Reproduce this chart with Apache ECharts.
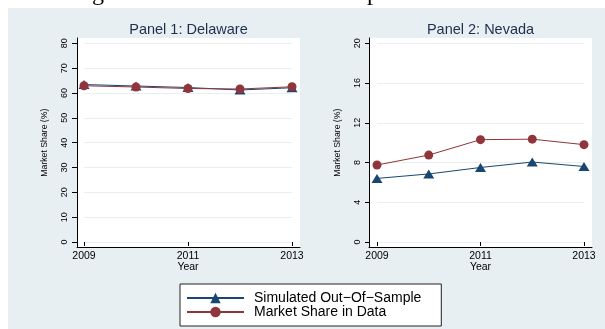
<!DOCTYPE html>
<html>
<head>
<meta charset="utf-8">
<script src="https://cdn.jsdelivr.net/npm/echarts@6/dist/echarts.min.js"></script>
<style>
  html, body { margin: 0; padding: 0; background: #fff; }
  #chart { width: 605px; height: 329px; }
</style>
</head>
<body>
<div id="chart"></div>
<script>
// ---- data ----
const years = ['2009', '2010', '2011', '2012', '2013'];
const delawareSimulated = [63.4, 62.8, 62.2, 61.2, 62.1];
const delawareData = [62.9, 62.4, 61.8, 61.6, 62.5];
const nevadaSimulated = [6.4, 6.85, 7.5, 8.05, 7.6];
const nevadaData = [7.75, 8.75, 10.3, 10.35, 9.8];
const panelTitles = ['Panel 1: Delaware', 'Panel 2: Nevada'];
const seriesNames = ['Simulated Out\u2212Of\u2212Sample', 'Market Share in Data'];
const yAxisName = 'Market Share (%)';
const xAxisName = 'Year';
const delawareScale = { min: 0, max: 80, interval: 10 };
const nevadaScale = { min: 0, max: 20, interval: 4 };

// ---- styles ----
const NAVY = '#1a476f';
const MAROON = '#90353b';
const BG = '#e8eff2';
const GRIDLINE = '#e8eff2';
const FONT = 'Liberation Sans, Arial, Helvetica, sans-serif';

const chart = echarts.init(document.getElementById('chart'), null, { renderer: 'canvas' });

function frameGrid(left) {
  return { left: left, top: 38, width: 223, height: 209, show: true, backgroundColor: '#fff', borderWidth: 0 };
}
function dataGrid(left, width) {
  return { left: left, top: 43.3, width: width, height: 198.7, show: false };
}
function frameX(gi) {
  return { type: 'value', gridIndex: gi, min: 0, max: 1, axisLine: { show: true, onZero: false, lineStyle: { color: '#000', width: 1 } },
    axisTick: { show: false }, axisLabel: { show: false }, splitLine: { show: false } };
}
function frameY(gi) {
  return { type: 'value', gridIndex: gi, min: 0, max: 1, axisLine: { show: true, onZero: false, lineStyle: { color: '#000', width: 1 } },
    axisTick: { show: false }, axisLabel: { show: false }, splitLine: { show: false } };
}
function dataX(gi) {
  return {
    type: 'category', gridIndex: gi, data: years, boundaryGap: false, offset: 5,
    axisLine: { show: false },
    axisTick: { show: true, interval: 1, length: 4, lineStyle: { color: '#000', width: 1 } },
    axisLabel: { interval: 1, fontSize: 10.5, margin: 4, color: '#000', fontFamily: FONT },
    splitLine: { show: false },
    name: xAxisName, nameLocation: 'middle', nameGap: 15, nameMoveOverlap: false,
    nameTextStyle: { fontSize: 10.5, color: '#000', fontFamily: FONT }
  };
}
function dataY(gi, sc) {
  return {
    type: 'value', gridIndex: gi, min: sc.min, max: sc.max, interval: sc.interval, offset: 7,
    axisLine: { show: false },
    axisTick: { show: true, length: 5, lineStyle: { color: '#000', width: 1 } },
    axisLabel: { rotate: 90, fontSize: 9, margin: 8, color: '#000', fontFamily: FONT },
    splitLine: { show: true, lineStyle: { color: GRIDLINE, width: 1 } },
    name: yAxisName, nameLocation: 'middle', nameRotate: 90, nameGap: 28, nameMoveOverlap: false,
    nameTextStyle: { fontSize: 8.7, color: '#000', fontFamily: FONT }
  };
}
function lineSeries(name, data, xi, yi, isSim) {
  return {
    type: 'line', name: name, data: data, xAxisIndex: xi, yAxisIndex: yi,
    symbol: isSim ? 'triangle' : 'circle',
    symbolSize: isSim ? [11, 9] : 9,
    showAllSymbol: true,
    lineStyle: { color: isSim ? NAVY : MAROON, width: 1 },
    itemStyle: { color: isSim ? NAVY : MAROON },
    emphasis: { disabled: true },
    animation: false
  };
}

const option = {
  animation: false,
  backgroundColor: '#fff',
  textStyle: { fontFamily: FONT },
  graphic: [
    { type: 'rect', z: -100, shape: { x: 8, y: 8, width: 597, height: 321 }, style: { fill: BG } },
    { type: 'text', z: 10, x: 92, y: 6, style: { text: 'g', font: '24px "Liberation Serif", serif', fill: '#000', verticalAlign: 'bottom' } },
    { type: 'text', z: 10, x: 367, y: 6, style: { text: 'p', font: '24px "Liberation Serif", serif', fill: '#000', verticalAlign: 'bottom' } }
  ],
  title: [
    { text: panelTitles[0], left: 188.5, top: 22.5, textAlign: 'center', padding: 0,
      textStyle: { fontSize: 14.5, fontWeight: 'normal', color: '#1e2f4e', fontFamily: FONT } },
    { text: panelTitles[1], left: 480.5, top: 22.5, textAlign: 'center', padding: 0,
      textStyle: { fontSize: 14.5, fontWeight: 'normal', color: '#1e2f4e', fontFamily: FONT } }
  ],
  legend: {
    data: seriesNames, orient: 'vertical', left: 180, top: 284,
    padding: [7, 20, 7, 6], itemGap: 0, itemWidth: 57, itemHeight: 13,
    backgroundColor: '#fff', borderColor: '#222', borderWidth: 1, borderRadius: 0,
    textStyle: { fontSize: 14, color: '#000', fontFamily: FONT, padding: [0, 0, 0, 5], lineHeight: 13 },
    selectedMode: false
  },
  grid: [frameGrid(77), dataGrid(84, 208), frameGrid(369), dataGrid(377, 207)],
  xAxis: [frameX(0), dataX(1), frameX(2), dataX(3)],
  yAxis: [frameY(0), dataY(1, delawareScale), frameY(2), dataY(3, nevadaScale)],
  series: [
    lineSeries(seriesNames[0], delawareSimulated, 1, 1, true),
    lineSeries(seriesNames[1], delawareData, 1, 1, false),
    lineSeries(seriesNames[0], nevadaSimulated, 3, 3, true),
    lineSeries(seriesNames[1], nevadaData, 3, 3, false)
  ]
};
chart.setOption(option);
</script>
</body>
</html>
